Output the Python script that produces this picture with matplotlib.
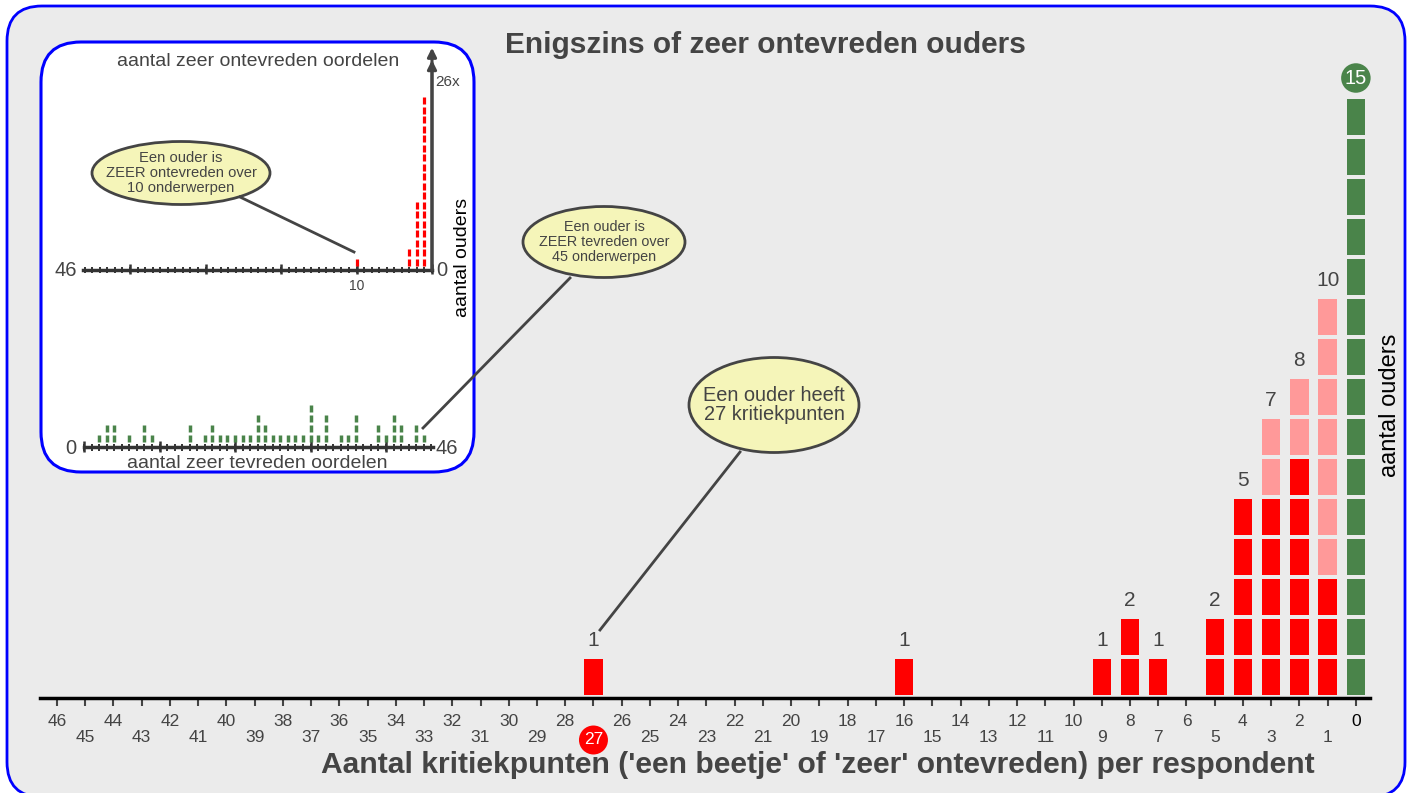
import matplotlib
matplotlib.use('Agg')
import matplotlib.pyplot as plt
from matplotlib.patches import FancyBboxPatch, Ellipse

plt.rcParams['font.family'] = ['Liberation Sans', 'DejaVu Sans']

# hoofdgrafiek: aantal kritiekpunten per respondent -> aantal ouders
kritiek_pos = [27, 16, 9, 8, 7, 5, 4, 3, 2, 1, 0]
kritiek_count = [1, 1, 1, 2, 1, 2, 5, 7, 8, 10, 15]
kritiek_licht = [0, 0, 0, 0, 0, 0, 0, 2, 2, 7, 0]   # lichtrode blokken bovenaan de stapel

# inzet boven: aantal zeer ontevreden oordelen
ontevr_pos = [10, 3, 2, 1]
ontevr_count = [1, 2, 7, 18]

# inzet onder: aantal zeer tevreden oordelen
tevr_pos = [2, 3, 4, 6, 8, 9, 14, 16, 17, 18, 19, 20, 21, 22, 23, 24, 25,
            26, 27, 28, 29, 30, 31, 32, 34, 35, 36, 39, 40, 41, 42, 44, 45]
tevr_count = [1, 2, 2, 1, 2, 1, 2, 1, 2, 1, 1, 1, 1, 1, 3, 2, 1,
              1, 1, 1, 1, 4, 1, 3, 1, 1, 3, 2, 1, 3, 2, 2, 1]

RED = '#ff0000'
PINK = '#ff9999'
GREEN = '#4a844a'
GREY = '#444444'
BUBBLE = '#f5f5b9'

W, H = 1412, 793


def px_rect(x0, y0, x1, y1):
    # pixel box (top-left origin) -> figure fraction rect
    return [x0 / W, 1 - y1 / H, (x1 - x0) / W, (y1 - y0) / H]


fig = plt.figure(figsize=(W / 100, H / 100), dpi=100)
fig.patch.set_facecolor('white')

# achtergrond met afgeronde kaders
bg = fig.add_axes([0, 0, 1, 1], zorder=0)
bg.set_xlim(0, W)
bg.set_ylim(H, 0)
bg.axis('off')
bg.add_patch(FancyBboxPatch((7, 6), 1398, 791, boxstyle='round,pad=0,rounding_size=35',
                            fc='#ebebeb', ec='blue', lw=2))
bg.add_patch(FancyBboxPatch((41, 42), 433, 430, boxstyle='round,pad=0,rounding_size=40',
                            fc='white', ec='blue', lw=2.2))

# ---------------- hoofdgrafiek ----------------
ax = fig.add_axes(px_rect(40, 40, 1370, 698), zorder=1)
ax.set_facecolor('none')
ax.set_xlim(46.6, -0.5)
ax.set_ylim(0, 16.45)
for s in ['top', 'right', 'left']:
    ax.spines[s].set_visible(False)
ax.spines['bottom'].set_linewidth(2.5)
ax.spines['bottom'].set_color('black')
ax.set_yticks([])
ax.set_xticks(range(47))
ax.set_xticklabels([])
ax.tick_params(axis='x', length=6, width=1.5, color=GREY)

for p, n, lt in zip(kritiek_pos, kritiek_count, kritiek_licht):
    colors = []
    for i in range(n):
        if p == 0:
            colors.append(GREEN)
        elif i >= n - lt:
            colors.append(PINK)
        else:
            colors.append(RED)
    ax.bar([p] * n, [0.9] * n, bottom=[i + 0.075 for i in range(n)], width=0.65, color=colors)
    if p == 0:
        ax.text(p, n + 0.5, str(n), ha='center', va='center', fontsize=14.5, color='white',
                bbox=dict(boxstyle='circle,pad=0.18', fc=GREEN, ec='none'))
    else:
        ax.text(p, n + 0.43, str(n), ha='center', va='center', fontsize=15, color=GREY)

# tick labels in two rows
for p in range(47):
    y = -0.6 if p % 2 == 0 else -1.0
    if p == 27:
        ax.text(p, y - 0.05, str(p), ha='center', va='center', fontsize=12.5, color='white',
                bbox=dict(boxstyle='circle,pad=0.28', fc=RED, ec='none'))
    else:
        ax.text(p, y, str(p), ha='center', va='center', fontsize=12.5,
                color='black' if p == 0 else GREY)

# ---------------- inzet boven (zeer ontevreden) ----------------
axt = fig.add_axes(px_rect(84.7, 50, 432, 270), zorder=2)
axt.set_xlim(46, 0)
axt.set_ylim(0, 220 / 9.5)
axt.axis('off')
axt.plot([46.2, 0], [0, 0], color='#333333', lw=2.5, clip_on=False)
axt.vlines(range(47), -0.35, 0.35, color='#333333', lw=1.4, clip_on=False)
axt.vlines(range(0, 47, 10), -0.45, 0.6, color='#333333', lw=1.8, clip_on=False)
for p, n in zip(ontevr_pos, ontevr_count):
    axt.vlines([p] * n, [i + 0.45 for i in range(n)], [i + 1.2 for i in range(n)],
               color=RED, lw=2.3, clip_on=False)
for top in (23.4, 22.1):
    axt.annotate('', xy=(0, top), xytext=(0, 0), annotation_clip=False,
                 arrowprops=dict(arrowstyle='-|>', color=GREY, lw=2.2, mutation_scale=13,
                                 shrinkA=0, shrinkB=0))
axt.text(48.5, -0.1, '46', ha='center', va='center', fontsize=14.5, color=GREY)
axt.text(-1.3, -0.1, '0', ha='center', va='center', fontsize=14.5, color=GREY)
axt.text(10, -1.7, '10', ha='center', va='center', fontsize=10, color=GREY)
axt.text(-2.1, 19.8, '26x', ha='center', va='center', fontsize=11, color=GREY)
axt.text(23.0, 21.9, 'aantal zeer ontevreden oordelen', ha='center', va='center',
         fontsize=14, color=GREY)
axt.text(-4.0, 1.3, 'aantal ouders', ha='center', va='center', rotation=90,
         fontsize=14, color='black')

# ---------------- inzet onder (zeer tevreden) ----------------
axb = fig.add_axes(px_rect(84, 357, 431.3, 447), zorder=2)
axb.set_xlim(0, 46)
axb.set_ylim(0, 9)
axb.axis('off')
axb.plot([0, 46.2], [0, 0], color='#333333', lw=2.5, clip_on=False)
axb.vlines(range(47), -0.35, 0.35, color='#333333', lw=1.4, clip_on=False)
axb.vlines(range(0, 47, 10), -0.45, 0.6, color='#333333', lw=1.8, clip_on=False)
for p, n in zip(tevr_pos, tevr_count):
    axb.vlines([p] * n, [i + 0.5 for i in range(n)], [i + 1.2 for i in range(n)],
               color=GREEN, lw=2.5, clip_on=False)
axb.text(-1.7, -0.2, '0', ha='center', va='center', fontsize=14.5, color=GREY)
axb.text(48.1, -0.2, '46', ha='center', va='center', fontsize=14.5, color=GREY)
axb.text(22.9, -1.7, 'aantal zeer tevreden oordelen', ha='center', va='center',
         fontsize=14, color=GREY)

# ---------------- tekstballonnen en titels ----------------
ov = fig.add_axes([0, 0, 1, 1], zorder=5)
ov.set_xlim(0, W)
ov.set_ylim(H, 0)
ov.axis('off')
ov.set_facecolor('none')

bubbles = [
    ((774, 405), 170, 95, 'Een ouder heeft\n27 kritiekpunten', 14.4, (740, 452), (600, 630)),
    ((604, 242), 162, 71, 'Een ouder is\nZEER tevreden over\n45 onderwerpen', 10.4, (570, 278), (423, 428)),
    ((181, 173), 178, 63, 'Een ouder is\nZEER ontevreden over\n10 onderwerpen', 10.6, (240, 197), (354, 252)),
]
for (cx, cy), bw, bh, txt, fs, p0, p1 in bubbles:
    ov.plot([p0[0], p1[0]], [p0[1], p1[1]], color=GREY, lw=2)
    ov.add_patch(Ellipse((cx, cy), bw, bh, fc=BUBBLE, ec=GREY, lw=2))
    ov.text(cx, cy, txt, ha='center', va='center', fontsize=fs, color=GREY, linespacing=1.05)

ov.text(765, 45, 'Enigszins of zeer ontevreden ouders', ha='center', va='center',
        fontsize=21.5, fontweight='bold', color=GREY)
ov.text(818, 765, "Aantal kritiekpunten ('een beetje' of 'zeer' ontevreden) per respondent",
        ha='center', va='center', fontsize=21.6, fontweight='bold', color=GREY)
ov.text(1390, 405, 'aantal ouders', ha='center', va='center', rotation=90,
        fontsize=17, color='black')

fig.savefig('out.png', dpi=100)
